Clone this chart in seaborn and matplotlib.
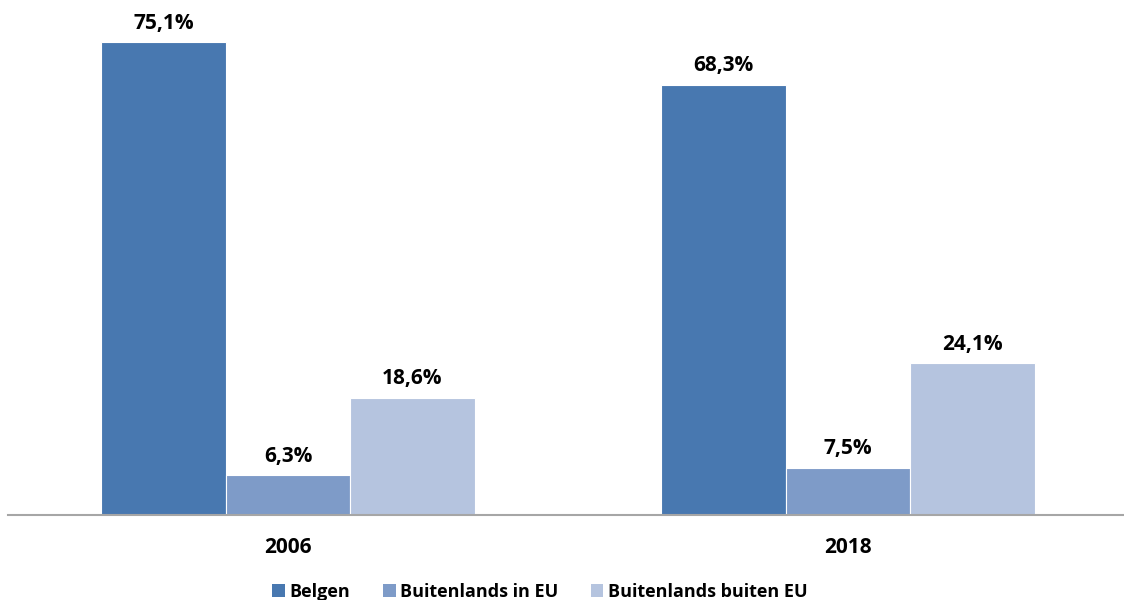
import matplotlib
matplotlib.use("Agg")
import matplotlib.pyplot as plt
import pandas as pd
import seaborn as sns
from matplotlib.patches import Patch

years = ["2006", "2018"]
groups = ["Belgen", "Buitenlands in EU", "Buitenlands buiten EU"]
belgen = [75.1, 68.3]
in_eu = [6.3, 7.5]
buiten_eu = [18.6, 24.1]
colors = ["#4878b0", "#7e9bc8", "#b5c4df"]

df = pd.DataFrame({
    "year": years * 3,
    "group": [g for g in groups for _ in years],
    "value": belgen + in_eu + buiten_eu,
})

sns.set_style("white")
plt.rcParams["font.family"] = ["Open Sans", "DejaVu Sans"]
plt.rcParams["text.color"] = "black"

fig = plt.figure(figsize=(11.24, 6), dpi=100)
ax = fig.add_axes([8 / 1124, 85 / 600, 1120 / 1124, 515 / 600])

sns.barplot(data=df, x="year", y="value", hue="group", palette=colors,
            saturation=1, width=0.667, edgecolor="white", linewidth=0.8,
            ax=ax, legend=False)

for c in ax.containers:
    ax.bar_label(c, labels=[f"{v:.1f}%".replace(".", ",") for v in c.datavalues],
                 padding=6, fontsize=15, fontweight="bold", color="black")

ax.set_ylim(0, 515 / 6.3)
ax.set_xlim(-0.5, 1.5)
ax.set_xlabel("")
ax.set_ylabel("")
ax.set_yticks([])
ax.tick_params(axis="x", length=0, pad=16, labelcolor="black")
for lbl in ax.get_xticklabels():
    lbl.set_fontweight("bold")
    lbl.set_fontsize(15)
for s in ["top", "right", "left"]:
    ax.spines[s].set_visible(False)
ax.spines["bottom"].set_color("#a6a6a6")
ax.spines["bottom"].set_linewidth(1.5)

handles = [Patch(facecolor=c, edgecolor="none") for c in colors]
fig.legend(handles, groups, loc="center", bbox_to_anchor=(540 / 1124, 8 / 600),
           ncol=3, frameon=False, handlelength=0.7, handleheight=0.7,
           handletextpad=0.25, columnspacing=1.8, labelcolor="black",
           prop={"weight": "bold", "size": 13})

fig.savefig("out.png", dpi=100)
